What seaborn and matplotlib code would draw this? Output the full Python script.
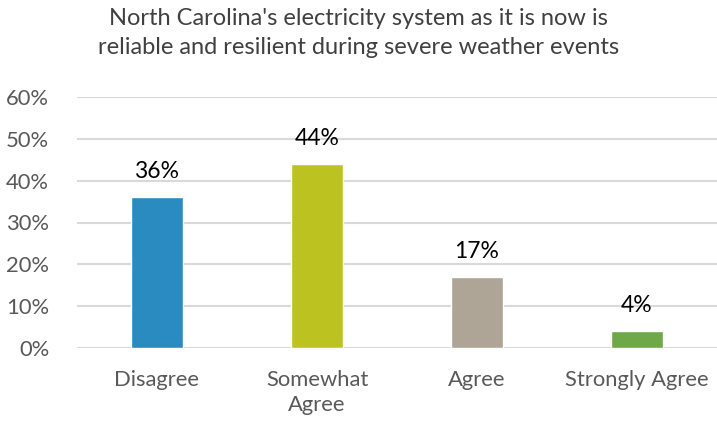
import matplotlib
matplotlib.use("Agg")
import matplotlib.pyplot as plt
import seaborn as sns
import pandas as pd

categories = ["Disagree", "Somewhat\nAgree", "Agree", "Strongly Agree"]
values = [0.36, 0.44, 0.17, 0.04]
bar_colors = ["#2A8BC0", "#BCC321", "#AFA596", "#6FA847"]
y_ticks = [0.0, 0.1, 0.2, 0.3, 0.4, 0.5, 0.6]
title = "North Carolina's electricity system as it is now is\nreliable and resilient during severe weather events"

sns.set_theme(style="white")
plt.rcParams["font.family"] = ["Lato", "DejaVu Sans"]

df = pd.DataFrame({"category": categories, "value": values})

fig = plt.figure(figsize=(7.17, 4.21), dpi=100)
ax = fig.add_axes([77 / 717, 1 - 348 / 421, 1 - 77 / 717, (348 - 97) / 421])

sns.barplot(data=df, x="category", y="value", hue="category",
            palette=bar_colors, width=0.32, legend=False, ax=ax,
            saturation=1, zorder=3)

ax.set_ylim(0, 0.6)
ax.set_xlim(-0.5, 3.5)
ax.set_yticks(y_ticks)
ax.set_yticklabels([f"{int(round(t * 100))}%" for t in y_ticks])
ax.yaxis.grid(True, color="#D9D9D9", linewidth=1.5, zorder=0)
ax.set_axisbelow(True)
for s in ax.spines.values():
    s.set_visible(False)
ax.tick_params(axis="both", length=0, labelsize=15.8, labelcolor="#595959")
ax.tick_params(axis="y", pad=20)
ax.tick_params(axis="x", pad=16)
for lbl in ax.get_xticklabels():
    lbl.set_linespacing(1.32)
ax.set_xlabel("")
ax.set_ylabel("")

for i, v in enumerate(values):
    ax.text(i, v + 0.036, f"{int(round(v * 100))}%", ha="center", va="bottom",
            fontsize=16.5, color="#000000")

fig.text(0.5, 1 - 33 / 421, title, ha="center", va="center",
         fontsize=17, color="#404040", linespacing=1.45)

fig.savefig("out.png", dpi=100)
